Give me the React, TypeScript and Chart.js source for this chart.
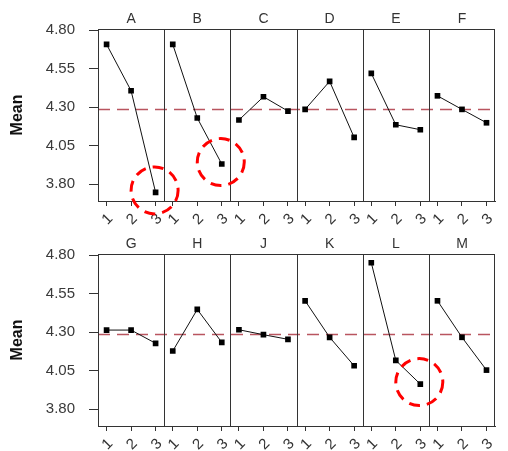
import React, { useEffect, useRef } from 'react';
import { Chart, registerables } from 'chart.js';

Chart.register(...registerables);

const FONT = "'Liberation Sans', Arial, sans-serif";

const levels = [1, 2, 3];
const levelLabels = ['1', '2', '3'];

const topFactors = ['A', 'B', 'C', 'D', 'E', 'F'];
const topMeans = [
  [4.707, 4.406, 3.746],
  [4.707, 4.229, 3.93],
  [4.216, 4.367, 4.274],
  [4.285, 4.467, 4.103],
  [4.519, 4.185, 4.153],
  [4.373, 4.285, 4.198],
];

const bottomFactors = ['G', 'H', 'J', 'K', 'L', 'M'];
const bottomMeans = [
  [4.313, 4.313, 4.227],
  [4.177, 4.447, 4.233],
  [4.315, 4.283, 4.253],
  [4.503, 4.266, 4.081],
  [4.75, 4.116, 3.962],
  [4.503, 4.266, 4.053],
];

const yTicks = [3.8, 4.05, 4.3, 4.55, 4.8];
const yMin = 3.69;
const yMax = 4.807;
const grandMean = 4.285;
const yTitle = 'Mean';

const highlighted = [
  { factor: 'A', level: 3 },
  { factor: 'B', level: 3 },
  { factor: 'L', level: 3 },
];

function buildConfig(factors: string[], means: number[][]): any {
  const scales: any = {
    y: {
      type: 'linear',
      position: 'left',
      min: yMin,
      max: yMax,
      afterBuildTicks: (s: any) => {
        s.ticks = yTicks.map((v) => ({ value: v }));
      },
      afterFit: (s: any) => {
        s.width = 98;
      },
      ticks: {
        callback: (v: any) => Number(v).toFixed(2),
        font: { family: FONT, size: 15 },
        color: '#3a3a3a',
        padding: 14,
      },
      grid: { drawOnChartArea: false, drawTicks: true, tickLength: 9, color: '#333', lineWidth: 1 },
      border: { display: true, color: '#333', width: 1 },
      title: {
        display: true,
        text: yTitle,
        font: { family: FONT, size: 16, weight: 'bold' },
        color: '#111',
        padding: { top: 8, bottom: 0 },
      },
    },
  };
  factors.forEach((f, i) => {
    scales['x' + i] = {
      type: 'linear',
      position: 'bottom',
      stack: 'panels',
      stackWeight: 1,
      min: 0.65,
      max: 3.35,
      afterBuildTicks: (s: any) => {
        s.ticks = levels.map((v) => ({ value: v }));
      },
      afterFit: (s: any) => {
        s.height = 25;
      },
      ticks: {
        autoSkip: false,
        callback: (_v: any, idx: number) => levelLabels[idx],
        minRotation: 45,
        maxRotation: 45,
        font: { family: FONT, size: 15 },
        color: '#333',
        padding: 4,
        labelOffset: 4,
      },
      grid: { drawOnChartArea: false, drawTicks: true, tickLength: 5, color: '#333', lineWidth: 1 },
      border: { display: true, color: '#333', width: 1 },
    };
  });

  const decor = {
    id: 'panelDecor',
    beforeDatasetsDraw(chart: any) {
      const { ctx, chartArea } = chart;
      const yS = chart.scales.y;
      ctx.save();
      // grand mean reference line
      const gy = yS.getPixelForValue(grandMean);
      ctx.strokeStyle = 'rgb(185,85,95)';
      ctx.lineWidth = 1.5;
      ctx.setLineDash([12, 7]);
      ctx.beginPath();
      ctx.moveTo(chartArea.left, gy);
      ctx.lineTo(chartArea.right, gy);
      ctx.stroke();
      ctx.setLineDash([]);
      // panel frames: top line, dividers, right edge
      ctx.strokeStyle = '#333';
      ctx.lineWidth = 1;
      const t = Math.round(chartArea.top) + 0.5;
      const b = Math.round(chartArea.bottom) + 0.5;
      ctx.beginPath();
      ctx.moveTo(Math.round(chartArea.left), t);
      ctx.lineTo(Math.round(chartArea.right), t);
      factors.forEach((_f, i) => {
        const s = chart.scales['x' + i];
        const l = Math.round(s.left) + 0.5;
        ctx.moveTo(l, t);
        ctx.lineTo(l, b);
      });
      const r = Math.round(chartArea.right) - 0.5;
      ctx.moveTo(r, t);
      ctx.lineTo(r, b);
      ctx.stroke();
      ctx.restore();
    },
    afterDraw(chart: any) {
      const { ctx, chartArea } = chart;
      const yS = chart.scales.y;
      ctx.save();
      ctx.fillStyle = '#333';
      ctx.font = `14px ${FONT}`;
      ctx.textAlign = 'center';
      ctx.textBaseline = 'middle';
      factors.forEach((f, i) => {
        const s = chart.scales['x' + i];
        ctx.fillText(f, (s.left + s.right) / 2, chartArea.top - 10);
      });
      ctx.strokeStyle = '#ff0000';
      ctx.lineWidth = 3;
      ctx.setLineDash([11, 7]);
      highlighted.forEach((h) => {
        const idx = factors.indexOf(h.factor);
        if (idx < 0) return;
        const li = levels.indexOf(h.level);
        const x = chart.scales['x' + idx].getPixelForValue(h.level);
        const y = yS.getPixelForValue(means[idx][li]);
        ctx.beginPath();
        ctx.arc(x - 1, y - 2, 23.5, 0, Math.PI * 2);
        ctx.stroke();
      });
      ctx.restore();
    },
  };

  return {
    type: 'line',
    data: {
      datasets: factors.map((f, i) => ({
        label: f,
        xAxisID: 'x' + i,
        yAxisID: 'y',
        data: levels.map((l, j) => ({ x: l, y: means[i][j] })),
        borderColor: '#111',
        borderWidth: 1,
        pointStyle: 'rect',
        pointRadius: 4,
        pointBackgroundColor: '#000',
        pointBorderColor: '#000',
        pointBorderWidth: 0,
        tension: 0,
      })),
    },
    options: {
      responsive: false,
      animation: false,
      devicePixelRatio: 1,
      layout: { padding: { top: 29, right: 1, left: 0, bottom: 0 } },
      plugins: { legend: { display: false }, tooltip: { enabled: false }, title: { display: false } },
      scales,
    },
    plugins: [decor],
  };
}

function Row({ factors, means, top }: { factors: string[]; means: number[][]; top: number }) {
  const ref = useRef<HTMLCanvasElement | null>(null);
  useEffect(() => {
    if (!ref.current) return;
    const chart = new Chart(ref.current, buildConfig(factors, means));
    return () => chart.destroy();
  }, []);
  return (
    <div style={{ position: 'absolute', left: 0, top, width: 508, height: 226 }}>
      <canvas ref={ref} width={508} height={226} style={{ width: 508, height: 226, display: 'block' }} />
    </div>
  );
}

export default function App() {
  return (
    <div style={{ position: 'absolute', left: 0, top: 0, width: 508, height: 451, background: '#fff', overflow: 'hidden' }}>
      <Row factors={topFactors} means={topMeans} top={0} />
      <Row factors={bottomFactors} means={bottomMeans} top={225} />
    </div>
  );
}
